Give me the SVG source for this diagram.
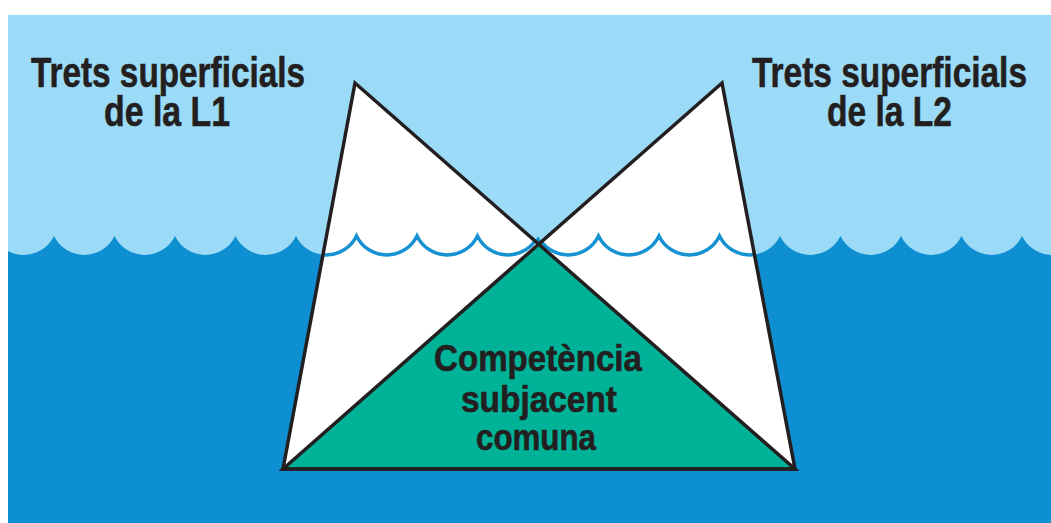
<svg xmlns="http://www.w3.org/2000/svg" width="1051" height="523" viewBox="0 0 1051 523">
  <style>
    .lbl { font-family: "Liberation Sans", Arial, sans-serif; font-weight: bold; fill: #231f20; stroke: #231f20; stroke-width: 0.6; }
    .ttl { font-size: 43px; }
    .ctr { font-size: 36px; }
    .outline { fill: none; stroke: #231f20; stroke-width: 3.5; stroke-linejoin: miter; }
  </style>
  <defs>
    <clipPath id="bgClip">
      <rect x="8" y="15" width="1043" height="508"/>
    </clipPath>
    <clipPath id="triClip">
      <polygon points="355,83 283,469 795,469"/>
      <polygon points="722,83 795,469 283,469"/>
    </clipPath>
    <path id="waveLine" d="M-6.5,236 A33.6,33.6 0 0 0 54,236 A33.6,33.6 0 0 0 114.5,236 A33.6,33.6 0 0 0 175,236 A33.6,33.6 0 0 0 235.5,236 A33.6,33.6 0 0 0 296,236 A33.6,33.6 0 0 0 356.5,236 A33.6,33.6 0 0 0 417,236 A33.6,33.6 0 0 0 477.5,236 A33.6,33.6 0 0 0 538,236 A33.6,33.6 0 0 0 598.5,236 A33.6,33.6 0 0 0 659,236 A33.6,33.6 0 0 0 719.5,236 A33.6,33.6 0 0 0 780,236 A33.6,33.6 0 0 0 840.5,236 A33.6,33.6 0 0 0 901,236 A33.6,33.6 0 0 0 961.5,236 A33.6,33.6 0 0 0 1022,236 A33.6,33.6 0 0 0 1082.5,236"/>
  </defs>

  <rect x="0" y="0" width="1051" height="523" fill="#ffffff"/>

  <g id="background" clip-path="url(#bgClip)">
    <rect x="8" y="15" width="1043" height="508" fill="#9cdbf7"/>
    <path fill="#0d8fd1" d="M-6.5,236 A33.6,33.6 0 0 0 54,236 A33.6,33.6 0 0 0 114.5,236 A33.6,33.6 0 0 0 175,236 A33.6,33.6 0 0 0 235.5,236 A33.6,33.6 0 0 0 296,236 A33.6,33.6 0 0 0 356.5,236 A33.6,33.6 0 0 0 417,236 A33.6,33.6 0 0 0 477.5,236 A33.6,33.6 0 0 0 538,236 A33.6,33.6 0 0 0 598.5,236 A33.6,33.6 0 0 0 659,236 A33.6,33.6 0 0 0 719.5,236 A33.6,33.6 0 0 0 780,236 A33.6,33.6 0 0 0 840.5,236 A33.6,33.6 0 0 0 901,236 A33.6,33.6 0 0 0 961.5,236 A33.6,33.6 0 0 0 1022,236 A33.6,33.6 0 0 0 1082.5,236 L1082.5,523 L-6.5,523 Z"/>
  </g>

  <g id="triangle-l1">
    <polygon points="355,83 283,469 795,469" fill="#ffffff"/>
  </g>
  <g id="triangle-l2">
    <polygon points="722,83 795,469 283,469" fill="#ffffff"/>
  </g>
  <g id="common-core">
    <polygon points="538.7,244.2 283,469 795,469" fill="#00b398"/>
  </g>

  <g id="water-line" clip-path="url(#triClip)">
    <use href="#waveLine" fill="none" stroke="#1592d2" stroke-width="3.5"/>
  </g>

  <g id="outlines">
    <polygon class="outline" points="355,83 283,469 795,469"/>
    <polygon class="outline" points="722,83 795,469 283,469"/>
  </g>

  <g id="label-l1">
    <text class="lbl ttl" x="31" y="87" textLength="274" lengthAdjust="spacingAndGlyphs">Trets superficials</text>
    <text class="lbl ttl" x="104" y="126" textLength="126" lengthAdjust="spacingAndGlyphs">de la L1</text>
  </g>
  <g id="label-l2">
    <text class="lbl ttl" x="752" y="87" textLength="275" lengthAdjust="spacingAndGlyphs">Trets superficials</text>
    <text class="lbl ttl" x="827" y="126" textLength="125" lengthAdjust="spacingAndGlyphs">de la L2</text>
  </g>
  <g id="label-common">
    <text class="lbl ctr" x="434" y="371" textLength="208" lengthAdjust="spacingAndGlyphs">Competència</text>
    <text class="lbl ctr" x="461" y="412" textLength="156" lengthAdjust="spacingAndGlyphs">subjacent</text>
    <text class="lbl ctr" x="476" y="450" textLength="120" lengthAdjust="spacingAndGlyphs">comuna</text>
  </g>
</svg>
